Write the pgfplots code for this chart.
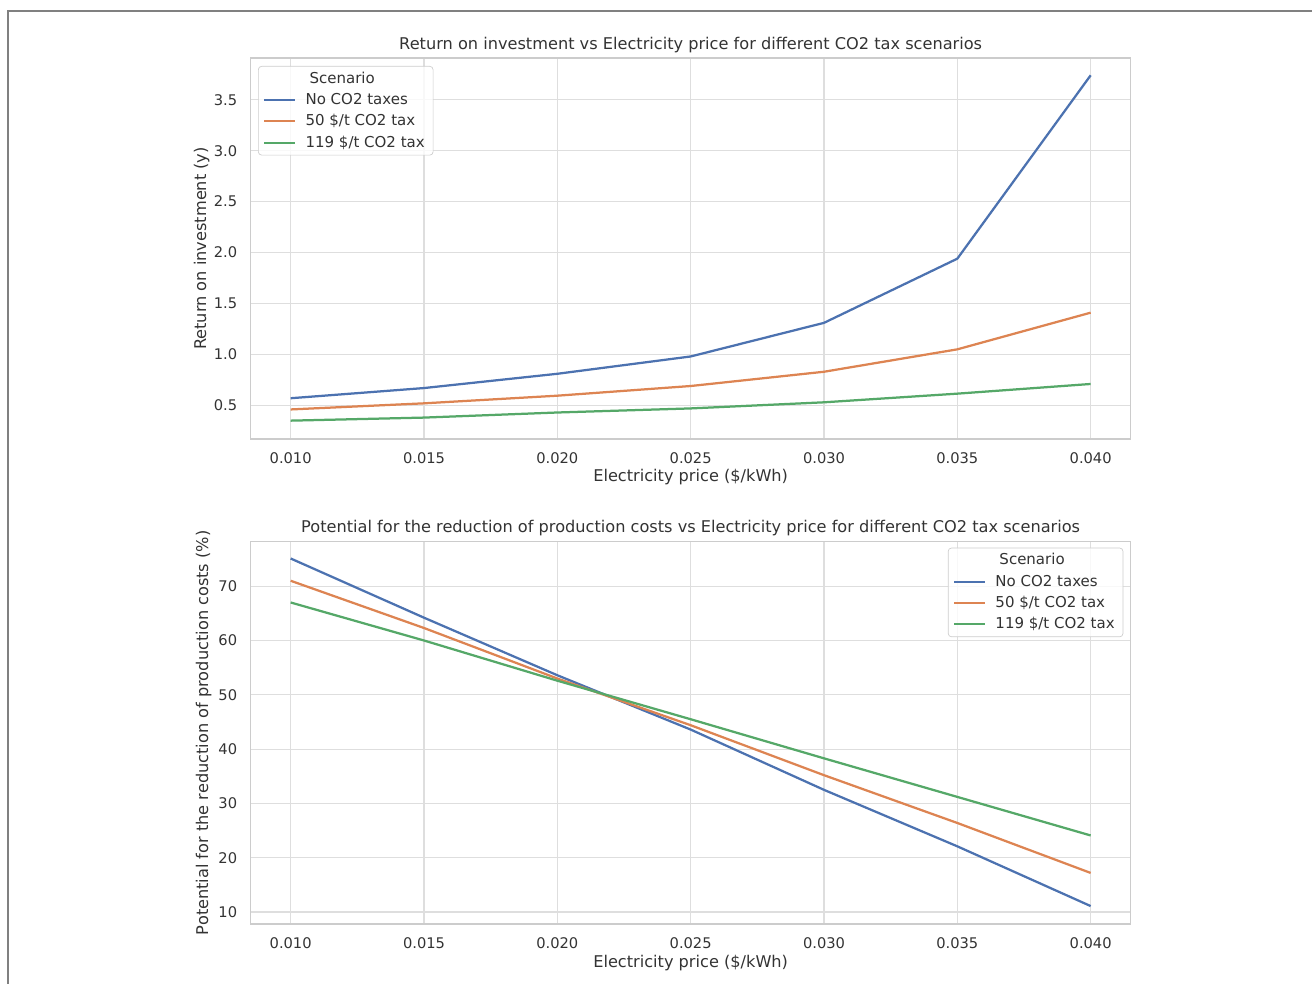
\documentclass[border=0pt]{standalone}
\usepackage{fontspec}
\setmainfont{DejaVu Sans}
\usepackage{pgfplots}
\usepackage{pgfplotstable}
\pgfplotsset{compat=1.18}

\definecolor{sbblue}{HTML}{4C72B0}
\definecolor{sborange}{HTML}{DD8452}
\definecolor{sbgreen}{HTML}{55A868}
\definecolor{txt}{HTML}{333333}
\definecolor{gridc}{HTML}{DEDEDE}
\definecolor{spine}{HTML}{CCCCCC}

\newcommand{\fs}{\fontsize{8.8}{10.5}\selectfont}
\newcommand{\fl}{\fontsize{9.7}{11.6}\selectfont}
\newcommand{\fg}{\fontsize{9}{10.8}\selectfont}

% return on investment (y)
\pgfplotstableread{
price notax tax50 tax119
0.010 0.57 0.46  0.35
0.015 0.67 0.52  0.38
0.020 0.81 0.595 0.43
0.025 0.98 0.69  0.47
0.030 1.31 0.83  0.53
0.035 1.94 1.05  0.615
0.040 3.74 1.41  0.71
}\roi

% potential for the reduction of production costs (%)
\pgfplotstableread{
price notax tax50 tax119
0.010 75.1 71.0 67.0
0.015 64.2 62.3 60.0
0.020 53.6 53.0 52.6
0.025 43.6 44.4 45.5
0.030 32.5 35.2 38.3
0.035 22.1 26.4 31.2
0.040 11.1 17.2 24.1
}\pot

\pgfplotsset{
  sb/.style={
    scale only axis,
    width=528pt,
    xmin=0.0085, xmax=0.0415,
    xtick={0.010,0.015,0.020,0.025,0.030,0.035,0.040},
    scaled x ticks=false,
    xticklabel style={/pgf/number format/fixed,/pgf/number format/fixed zerofill,/pgf/number format/precision=3,anchor=center,yshift=-11.4pt},
    yticklabel style={anchor=east,xshift=-4.6pt},
    /pgf/number format/assume math mode=true,
    tick label style={font=\fs,text=txt},
    label style={font=\fl,text=txt},
    every axis title/.style={font=\fl,text=txt,anchor=center},
    grid=major,
    major grid style={gridc,line width=0.7pt},
    axis line style={spine,line width=0.9pt},
    major tick length=0pt,
    every axis plot/.append style={line width=1.35pt,no markers},
    legend cell align=left,
    legend image code/.code={\draw[##1] (0pt,0pt) -- (18.6pt,0pt);},
    legend style={draw=spine,rounded corners=2pt,fill=white,fill opacity=0.8,text opacity=1,
      font=\fg,text=txt,row sep=0.5pt,inner xsep=3pt,inner ysep=1.3pt,
      /tikz/every odd column/.append style={column sep=3.4pt}},
  },
}

\begin{document}
\begin{tikzpicture}
\useasboundingbox (0,0) rectangle (787.2pt,590.4pt);
\draw[black!50,line width=1.2pt] (4.5pt,0pt) -- (4.5pt,583.5pt) -- (787.2pt,583.5pt);

\begin{axis}[sb,
  at={(150.4pt,327pt)}, anchor=south west,
  height=228.6pt,
  ymin=0.17, ymax=3.91,
  ytick={0.5,1.0,1.5,2.0,2.5,3.0,3.5},
  yticklabel style={/pgf/number format/fixed,/pgf/number format/fixed zerofill,/pgf/number format/precision=1},
  title={Return on investment vs Electricity price for different CO2 tax scenarios},
  title style={at={(axis description cs:0.5,1.034)}},
  xlabel={Electricity price (\$/kWh)},
  xlabel style={at={(axis description cs:0.5,-0.0997)},anchor=center},
  ylabel={Return on investment (y)},
  ylabel style={at={(axis description cs:-0.0557,0.5)},anchor=center},
  legend style={at={(0,1)},anchor=north west,xshift=4.4pt,yshift=-4.8pt},
]
\addlegendimage{empty legend}
\addlegendentry{\hspace*{2.4pt}Scenario}
\addplot[sbblue] table[x=price,y=notax] {\roi};
\addlegendentry{No CO2 taxes}
\addplot[sborange] table[x=price,y=tax50] {\roi};
\addlegendentry{50 \$/t CO2 tax}
\addplot[sbgreen] table[x=price,y=tax119] {\roi};
\addlegendentry{119 \$/t CO2 tax}
\end{axis}

\begin{axis}[sb,
  at={(150.4pt,36pt)}, anchor=south west,
  height=229.4pt,
  ymin=7.8, ymax=78.2,
  ytick={10,20,30,40,50,60,70},
  title={Potential for the reduction of production costs vs Electricity price for different CO2 tax scenarios},
  title style={at={(axis description cs:0.5,1.036)}},
  xlabel={Electricity price (\$/kWh)},
  xlabel style={at={(axis description cs:0.5,-0.101)},anchor=center},
  ylabel={Potential for the reduction of production costs (\%)},
  ylabel style={at={(axis description cs:-0.0533,0.5)},anchor=center},
  legend style={at={(1,1)},anchor=north east,xshift=-4.4pt,yshift=-3.6pt},
]
\addlegendimage{empty legend}
\addlegendentry{\hspace*{2.4pt}Scenario}
\addplot[sbblue] table[x=price,y=notax] {\pot};
\addlegendentry{No CO2 taxes}
\addplot[sborange] table[x=price,y=tax50] {\pot};
\addlegendentry{50 \$/t CO2 tax}
\addplot[sbgreen] table[x=price,y=tax119] {\pot};
\addlegendentry{119 \$/t CO2 tax}
\end{axis}
\end{tikzpicture}
\end{document}
